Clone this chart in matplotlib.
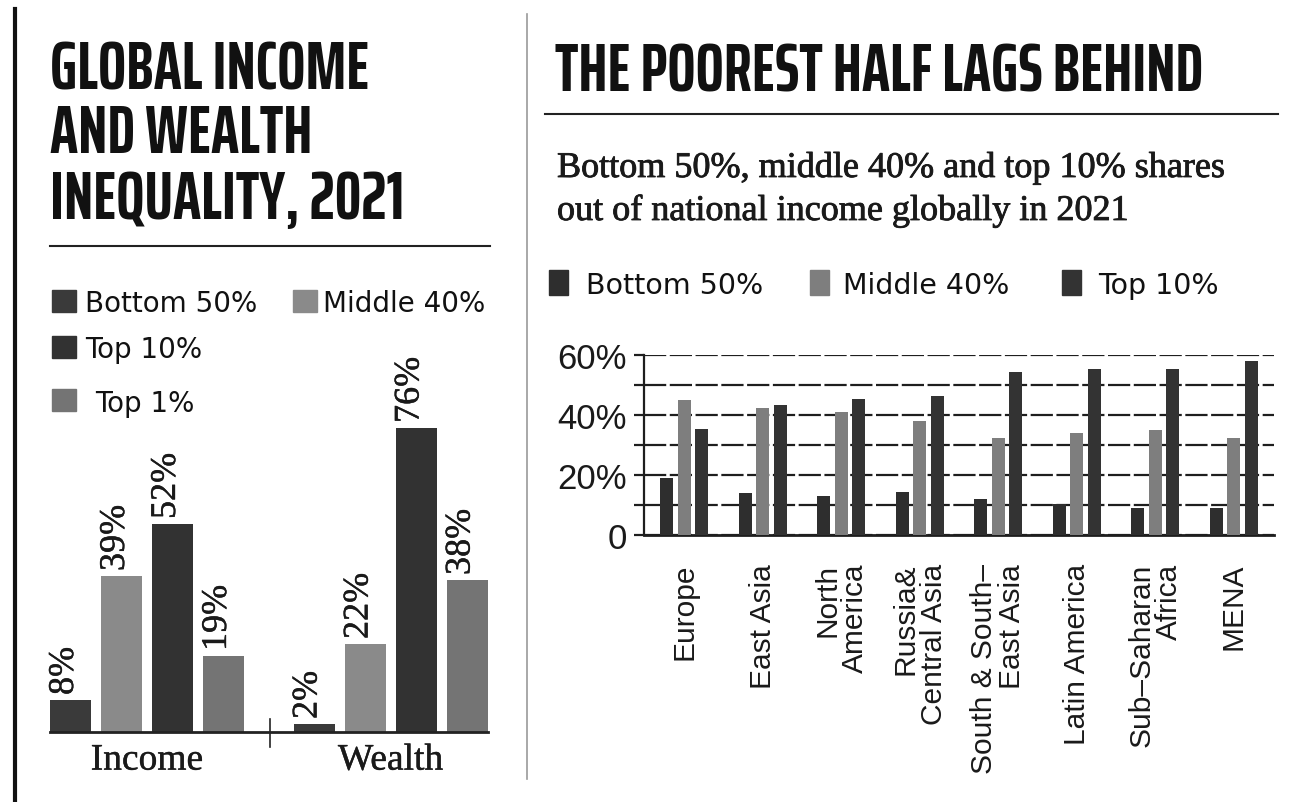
import numpy as np
import matplotlib
matplotlib.use("Agg")
import matplotlib.pyplot as plt
import matplotlib.patheffects as pe
from matplotlib.patches import Rectangle
from matplotlib.lines import Line2D

W, H = 1313, 803

# left panel: income and wealth shares
shares = ['Bottom 50%', 'Middle 40%', 'Top 10%', 'Top 1%']
left_groups = ['Income', 'Wealth']
income = [8, 39, 52, 19]
wealth = [2, 22, 76, 38]
left_colors = ['#3a3a3a', '#8a8a8a', '#323232', '#747474']

# right panel: regional income shares
regions = ['Europe', 'East Asia', 'North\nAmerica', 'Russia&\nCentral Asia',
           'South & South–\nEast Asia', 'Latin America', 'Sub–Saharan\nAfrica', 'MENA']
bottom50 = [19, 14, 13, 14.5, 12, 10.5, 9, 9]
middle40 = [45, 42.5, 41, 38, 32.5, 34, 35, 32.5]
top10 = [35.5, 43.5, 45.5, 46.5, 54.5, 55.5, 55.5, 58]
right_labels = ['Bottom 50%', 'Middle 40%', 'Top 10%']
right_colors = ['#2e2e2e', '#7e7e7e', '#333333']

HEAD = ['Saira ExtraCondensed', 'DejaVu Sans']
SANS = ['DejaVu Sans']
ARIAL = ['Liberation Sans', 'DejaVu Sans']
SERIF = ['Liberation Serif', 'DejaVu Serif']
thick = [pe.withStroke(linewidth=0.6, foreground='#1a1a1a')]
light = [pe.withStroke(linewidth=0.3, foreground='#1a1a1a')]


def fx(x):
    return x / W


def fy(y):
    return 1 - y / H


def rect(x0, y0, x1, y1):
    return [fx(x0), fy(y1), (x1 - x0) / W, (y1 - y0) / H]


fig = plt.figure(figsize=(W / 100, H / 100), dpi=100)
fig.patch.set_facecolor('white')

# page rules
fig.add_artist(Line2D([fx(15), fx(15)], [fy(10), fy(803)], color='#111111', lw=3))
fig.add_artist(Line2D([fx(527), fx(527)], [fy(15), fy(780)], color='#9a9a9a', lw=1.2))
fig.add_artist(Line2D([fx(50), fx(490)], [fy(247), fy(247)], color='#222222', lw=1.5))
fig.add_artist(Line2D([fx(545), fx(1278)], [fy(115), fy(115)], color='#222222', lw=1.5))

# headlines
for text, base in [('GLOBAL INCOME', 89), ('AND WEALTH', 153), ('INEQUALITY, 2021', 219)]:
    fig.text(fx(50), fy(base), text, family=HEAD, weight='bold', fontsize=48,
             color='#111111', va='baseline', ha='left')
fig.text(fx(555), fy(91), 'THE POOREST HALF LAGS BEHIND', family=HEAD, weight='bold',
         fontsize=48, color='#111111', va='baseline', ha='left')
fig.text(fx(557), fy(178), 'Bottom 50%, middle 40% and top 10% shares', family=SERIF,
         fontsize=26, color='#1a1a1a', va='baseline', ha='left', path_effects=thick)
fig.text(fx(557), fy(221), 'out of national income globally in 2021', family=SERIF,
         fontsize=26, color='#1a1a1a', va='baseline', ha='left', path_effects=thick)

# left legend
left_leg = [(52, 291, 85, 312), (293, 291, 323, 312), (52, 337, 85, 358), (52, 390, 95, 412)]
for (sx, sy, tx, ty), lab, col in zip(left_leg, shares, left_colors):
    fig.add_artist(Rectangle((fx(sx), fy(sy + 22)), 24 / W, 22 / H, color=col,
                             transform=fig.transFigure))
    fig.text(fx(tx), fy(ty), lab, family=SANS, fontsize=20, color='#111111',
             va='baseline', ha='left')

# right legend
right_leg = [(549, 586), (810, 843), (1062, 1098)]
for (sx, tx), lab, col in zip(right_leg, right_labels, right_colors):
    fig.add_artist(Rectangle((fx(sx), fy(296)), 19 / W, 25 / H, color=col,
                             transform=fig.transFigure))
    fig.text(fx(tx), fy(294), lab, family=SANS, fontsize=20.5, color='#111111',
             va='baseline', ha='left')

# ---- left chart
axl = fig.add_axes(rect(50, 413, 488, 733))
step, bw = 0.2094, 0.168
offs = (np.arange(4) - 1.5) * step
for g, vals in enumerate([income, wealth]):
    for i, v in enumerate(vals):
        x = g + offs[i]
        axl.bar(x, v, width=bw, color=left_colors[i], zorder=2)
        axl.annotate(f'{v}%', (x, v), xytext=(-6, 5), textcoords='offset pixels',
                     rotation=90, ha='center', va='bottom', family=SERIF,
                     fontsize=26, color='#1a1a1a', annotation_clip=False,
                     path_effects=light)
axl.set_xlim(-0.398, 1.4)
axl.set_ylim(0, 80)
axl.plot([0.505, 0.505], [-3.75, 3.25], color='#222222', lw=1.2, clip_on=False, zorder=3)
for s in ['top', 'left', 'right']:
    axl.spines[s].set_visible(False)
axl.spines['bottom'].set_linewidth(2)
axl.spines['bottom'].set_color('#222222')
axl.set_yticks([])
axl.set_xticks([0, 1], left_groups, family=SERIF, fontsize=27, color='#1a1a1a')
for t in axl.get_xticklabels():
    t.set_path_effects(light)
axl.tick_params(axis='x', length=0, pad=8)
axl.patch.set_alpha(0)

# ---- right chart
axr = fig.add_axes(rect(644, 356, 1274, 536))
x = np.arange(len(regions))
rw, ro = 0.166, 0.223
for k, (vals, col) in enumerate(zip([bottom50, middle40, top10], right_colors)):
    axr.bar(x + (k - 1) * ro, vals, width=rw, color=col, zorder=3)
axr.set_xlim(-0.51, 7.51)
axr.set_ylim(0, 60)
axr.set_yticks([0, 20, 40, 60], ['0', '20%', '40%', '60%'], family=ARIAL, fontsize=25,
               color='#1a1a1a')
axr.set_yticks([10, 30, 50], minor=True)
axr.yaxis.grid(True, which='both', color='#1e1e1e', lw=1.6, ls=(0, (10, 1.6)), zorder=1)
axr.tick_params(axis='y', which='both', length=7.2, width=1.6, color='#1e1e1e', pad=5)
axr.set_xticks(x, regions, rotation=90, ha='center', va='top', multialignment='right',
               linespacing=1.0, family=ARIAL, fontsize=21.5, color='#1a1a1a')
axr.tick_params(axis='x', length=0, pad=20)
for s in ['top', 'right']:
    axr.spines[s].set_visible(False)
axr.spines['left'].set_linewidth(1.6)
axr.spines['left'].set_color('#1e1e1e')
axr.spines['bottom'].set_linewidth(2)
axr.spines['bottom'].set_color('#1e1e1e')
axr.set_axisbelow(True)

fig.savefig('out.png', dpi=100)
